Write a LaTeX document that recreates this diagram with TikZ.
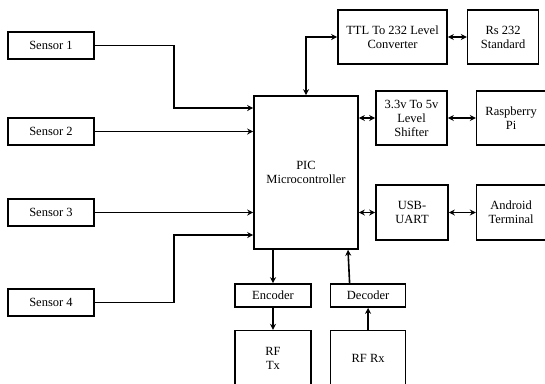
\documentclass[tikz,border=0pt]{standalone}
\usepackage{fontspec}
\setmainfont{Liberation Serif}
\usetikzlibrary{arrows.meta, positioning}

\begin{document}
\begin{tikzpicture}[
    x=1pt, y=-1pt,
    block/.style={rectangle, draw=black, line width=1.6pt, align=center, inner sep=1pt, font=\fontsize{12.5}{14}\selectfont},
    sensor/.style={block, minimum width=86pt, minimum height=27pt},
    arrow/.style={line width=1.6pt, -{Stealth[length=6pt,width=6pt]}},
    biarrow/.style={line width=1.6pt, {Stealth[length=6pt,width=6pt]}-{Stealth[length=6pt,width=6pt]}}
]
    \useasboundingbox (0,0) rectangle (545,383);
    \clip (0,0) rectangle (545,383);

    \node[sensor] (s1) at (51,45.5) {Sensor 1};
    \node[sensor] (s2) at (51,131.5) {Sensor 2};
    \node[sensor] (s3) at (51,212.5) {Sensor 3};
    \node[sensor] (s4) at (51,302.5) {Sensor 4};

    \node[block, minimum width=104pt, minimum height=153pt] (pic) at (306,172.5) {PIC\\Microcontroller};

    \node[block, minimum width=109pt, minimum height=54pt] (ttl) at (392.5,37) {TTL To 232 Level\\Converter};
    \node[block, minimum width=71pt, minimum height=54pt, right=19pt of ttl] (rs) {Rs 232\\Standard};

    \node[block, minimum width=71pt, minimum height=54pt] (shift) at (411.5,118) {3.3v To 5v\\Level\\Shifter};
    \node[block, minimum width=69pt, minimum height=54pt, right=28pt of shift] (rpi) {Raspberry\\Pi};

    \node[block, minimum width=72pt, minimum height=55pt] (usb) at (412,212.5) {USB-\\UART};
    \node[block, minimum width=69pt, minimum height=55pt, right=27pt of usb] (andr) {Android\\Terminal};

    \node[block, minimum width=76pt, minimum height=23pt] (enc) at (273,295.5) {Encoder};
    \node[block, minimum width=75pt, minimum height=23pt, right=18pt of enc] (dec) {Decoder};
    \node[block, minimum width=76pt, minimum height=55pt, below=22pt of enc] (rftx) {RF\\Tx};
    \node[block, minimum width=75pt, minimum height=55pt, below=22pt of dec] (rfrx) {RF Rx};

    % sensors into the controller
    \draw[arrow] (s1.east) -- ++(79,0) |- ([yshift=64.5pt]pic.west);
    \draw[arrow] (s2.east) -- (s2.east -| pic.west);
    \draw[arrow] (s3.east) -- (s3.east -| pic.west);
    \draw[arrow] (s4.east) -- ++(79,0) |- ([yshift=-62.5pt]pic.west);

    % serial side
    \draw[biarrow] (pic.north) |- (ttl.west);
    \draw[biarrow] (ttl) -- (rs);
    \draw[biarrow] (shift.west -| pic.east) -- (shift.west);
    \draw[biarrow] (shift) -- (rpi);
    \draw[biarrow] (usb.west -| pic.east) -- (usb.west);
    \draw[biarrow] (usb) -- (andr);

    % radio link
    \draw[arrow] (enc.north |- pic.south) -- (enc.north);
    \draw[arrow] (enc) -- (rftx);
    \draw[arrow] ([xshift=-18.5pt]dec.north) -- ([xshift=42pt]pic.south);
    \draw[arrow] (rfrx) -- (dec);

\end{tikzpicture}
\end{document}
